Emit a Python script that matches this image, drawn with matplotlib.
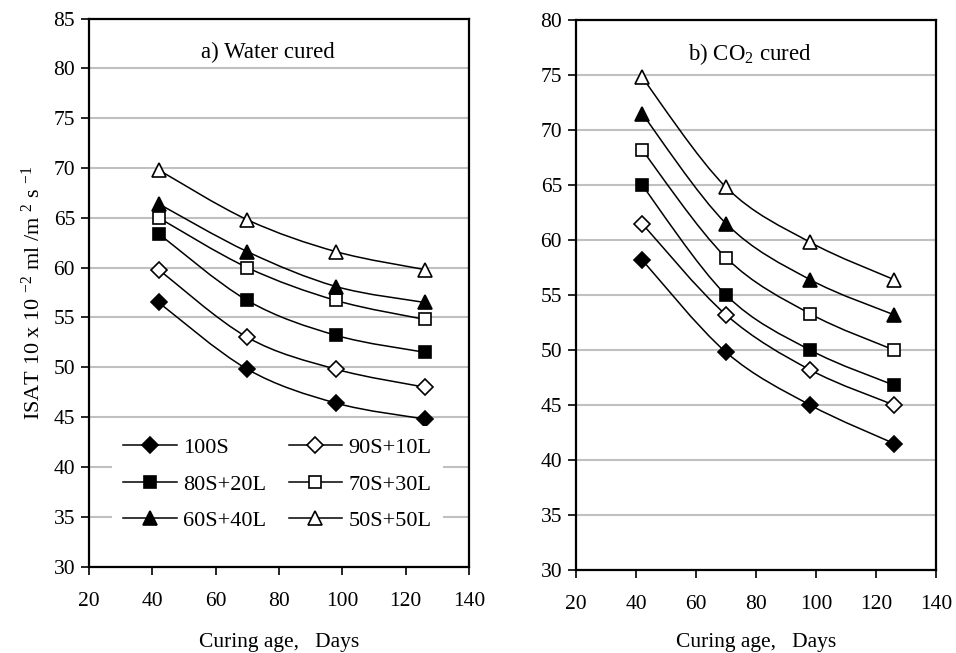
import matplotlib
matplotlib.use("Agg")
import matplotlib.pyplot as plt
from matplotlib.path import Path
from matplotlib.patches import PathPatch
from matplotlib.lines import Line2D
import numpy as np

plt.rcParams['font.family'] = ['Liberation Serif', 'DejaVu Serif']
plt.rcParams['mathtext.fontset'] = 'custom'
plt.rcParams['mathtext.rm'] = 'Liberation Serif'
plt.rcParams['mathtext.it'] = 'Liberation Serif'

days = [42, 70, 98, 126]
series_names = ['100S', '90S+10L', '80S+20L', '70S+30L', '60S+40L', '50S+50L']

water_100S = [56.5, 49.8, 46.4, 44.8]
water_90S10L = [59.8, 53.0, 49.8, 48.0]
water_80S20L = [63.4, 56.7, 53.2, 51.5]
water_70S30L = [65.0, 60.0, 56.7, 54.8]
water_60S40L = [66.4, 61.6, 58.1, 56.5]
water_50S50L = [69.8, 64.8, 61.6, 59.8]

co2_100S = [58.2, 49.8, 45.0, 41.5]
co2_90S10L = [61.5, 53.2, 48.2, 45.0]
co2_80S20L = [65.0, 55.0, 50.0, 46.8]
co2_70S30L = [68.2, 58.4, 53.3, 50.0]
co2_60S40L = [71.5, 61.5, 56.4, 53.2]
co2_50S50L = [74.8, 64.8, 59.8, 56.4]

water = [water_100S, water_90S10L, water_80S20L, water_70S30L, water_60S40L, water_50S50L]
co2 = [co2_100S, co2_90S10L, co2_80S20L, co2_70S30L, co2_60S40L, co2_50S50L]

styles = [('D', 'black'), ('D', 'white'), ('s', 'black'), ('s', 'white'), ('^', 'black'), ('^', 'white')]
msizes = {'D': 8.5, 's': 8.5, '^': 10}


def smooth_path(xs, ys):
    pts = np.column_stack([xs, ys]).astype(float)
    n = len(pts)
    verts = [pts[0]]
    codes = [Path.MOVETO]
    for i in range(n - 1):
        p0 = pts[i - 1] if i > 0 else pts[i]
        p1 = pts[i]
        p2 = pts[i + 1]
        p3 = pts[i + 2] if i + 2 < n else pts[i + 1]
        c1 = p1 + (p2 - p0) / 6.0
        c2 = p2 - (p3 - p1) / 6.0
        verts += [c1, c2, p2]
        codes += [Path.CURVE4] * 3
    return Path(verts, codes)


fig = plt.figure(figsize=(9.56, 6.53), dpi=100)
axL = fig.add_axes([89 / 956, 1 - 566.5 / 653, 380 / 956, 548 / 653])
axR = fig.add_axes([576 / 956, 1 - 570 / 653, 360 / 956, 550 / 653])


def draw(ax, data, ylim, labelpad):
    for vals, (m, fc) in zip(data, styles):
        ax.add_patch(PathPatch(smooth_path(days, vals), fill=False, edgecolor='black', lw=1.1, zorder=3))
        ax.plot(days, vals, linestyle='none', marker=m, markersize=msizes[m], markerfacecolor=fc,
                markeredgecolor='black', markeredgewidth=1.2, zorder=4)
    ax.set_xlim(20, 140)
    ax.set_ylim(*ylim)
    ax.set_xticks(range(20, 141, 20))
    ax.set_yticks(range(ylim[0], ylim[1] + 1, 5))
    ax.yaxis.grid(True, color='#c0c0c0', lw=1.5, zorder=0)
    ax.set_axisbelow(True)
    ax.tick_params(direction='out', length=6, width=1.2, labelsize=15.5)
    ax.tick_params(axis='x', pad=12)
    ax.tick_params(axis='y', pad=4)
    for s in ax.spines.values():
        s.set_linewidth(1.6)
    ax.set_xlabel('Curing age,   Days', fontsize=15.5, labelpad=labelpad)


draw(axL, water, (30, 85), 16)
draw(axR, co2, (30, 80), 13.5)

axL.text(76.5, 81.6, 'a) Water cured', fontsize=16.5, ha='center', va='center')
axR.text(78, 76.9, r'b) CO$_2$ cured', fontsize=16.5, ha='center', va='center')
axL.set_ylabel(r'ISAT 10 x 10 $^{-2}$ ml /m $^{2}$ s $^{-1}$', fontsize=16, labelpad=6)

handles = [Line2D([], [], color='black', lw=1.1, marker=m, markersize=msizes[m],
                  markerfacecolor=fc, markeredgecolor='black', markeredgewidth=1.2)
           for (m, fc) in styles]
order = [0, 2, 4, 1, 3, 5]
leg = axL.legend([handles[i] for i in order], [series_names[i] for i in order], ncol=2,
                 loc='center', bbox_to_anchor=(0.496, 0.15), frameon=True, fontsize=16,
                 handlelength=2.4, handletextpad=0.3, columnspacing=1.0, labelspacing=0.72,
                 borderpad=0.5, fancybox=False)
leg.get_frame().set_edgecolor('none')
leg.get_frame().set_facecolor('white')
leg.get_frame().set_alpha(1)

fig.savefig('out.png', dpi=100)
